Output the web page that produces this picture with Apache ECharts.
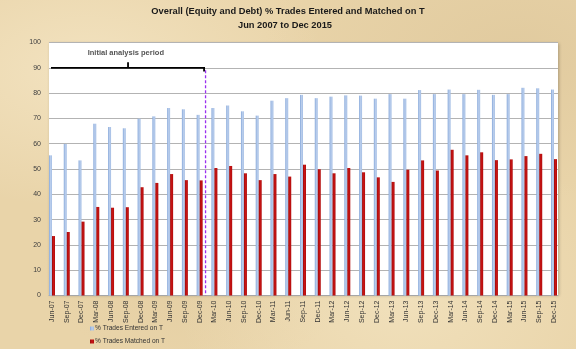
<!DOCTYPE html>
<html>
<head>
<meta charset="utf-8">
<script src="https://cdn.jsdelivr.net/npm/echarts@6/dist/echarts.min.js"></script>
<style>
html,body{margin:0;padding:0;width:576px;height:349px;overflow:hidden;}
body{
  background-color:#e9d4a9;
  background-image:
    radial-gradient(ellipse at 15% 20%, rgba(250,238,210,0.55) 0%, rgba(250,238,210,0) 35%),
    radial-gradient(ellipse at 70% 85%, rgba(248,236,205,0.5) 0%, rgba(248,236,205,0) 40%),
    radial-gradient(ellipse at 90% 15%, rgba(210,185,140,0.35) 0%, rgba(210,185,140,0) 35%),
    radial-gradient(ellipse at 35% 75%, rgba(215,190,145,0.3) 0%, rgba(215,190,145,0) 30%);
}
#c{width:576px;height:349px;}
</style>
</head>
<body>
<div id="c"></div>
<script>
var categories = ['Jun-07','Sep-07','Dec-07','Mar-08','Jun-08','Sep-08','Dec-08','Mar-09','Jun-09','Sep-09','Dec-09',
  'Mar-10','Jun-10','Sep-10','Dec-10','Mar-11','Jun-11','Sep-11','Dec-11','Mar-12','Jun-12','Sep-12','Dec-12',
  'Mar-13','Jun-13','Sep-13','Dec-13','Mar-14','Jun-14','Sep-14','Dec-14','Mar-15','Jun-15','Sep-15','Dec-15'];
var enteredOnT = [55.4,59.9,53.4,67.9,66.6,66.1,69.9,70.8,74.1,73.6,71.4,
  74.1,75.1,72.8,71.1,77.0,78.0,79.3,78.0,78.6,79.1,79.0,77.8,
  79.6,77.8,81.2,79.6,81.4,79.6,81.3,79.3,79.6,82.1,81.9,81.4];
var matchedOnT = [23.5,25.1,29.2,35.0,34.7,34.9,42.8,44.5,48.0,45.6,45.5,
  50.4,51.2,48.3,45.6,48.0,47.0,51.7,49.9,48.3,50.4,48.7,46.7,
  44.9,49.7,53.4,49.4,57.6,55.4,56.6,53.5,53.8,55.1,56.0,53.9];
var yTicks = [0,10,20,30,40,50,60,70,80,90,100];
var seriesNames = ['% Trades Entered on T','% Trades Matched on T'];
var titleLine1 = 'Overall (Equity and Debt) % Trades Entered and Matched on T';
var titleLine2 = 'Jun 2007 to Dec 2015';
var annotationText = 'Initial analysis period';
// bracket over the initial analysis period (x in category index units, y in %)
var bracketX = [-0.15,-0.15,5.15,5.15,5.15,10.3,10.3];
var bracketY = [88.8,90,90,92.2,90,90,88.9];
var periodEndX = [10.4,10.4];
var periodEndY = [89,0];
var annotationPos = [5.0,95.8];

var chart = echarts.init(document.getElementById('c'), null, {renderer:'canvas'});
var fam = "'Liberation Sans', Arial, sans-serif";
var titleFam = "'Liberation Sans', sans-serif";

var option = {
  animation:false,
  backgroundColor:'transparent',
  title:[
    {text:titleLine1, left:288, top:6.5, textAlign:'center', padding:0,
     textStyle:{fontFamily:titleFam, fontWeight:'bold', fontSize:9.3, color:'#1a1a1a'}},
    {text:titleLine2, left:285, top:20.5, textAlign:'center', padding:0,
     textStyle:{fontFamily:titleFam, fontWeight:'bold', fontSize:9.3, color:'#1a1a1a'}}
  ],
  legend:{
    data:seriesNames, orient:'vertical', left:90, top:325, itemGap:6, padding:0,
    itemWidth:4, itemHeight:4, icon:'rect',
    textStyle:{fontFamily:fam, fontSize:6.6, color:'#333', padding:[0,0,0,-4]}
  },
  grid:[
    {left:52, right:22, top:42.5, bottom:53.5},
    {left:49, right:18, top:42.5, bottom:53.5, show:true, backgroundColor:'#ffffff', borderWidth:0,
     shadowColor:'rgba(0,0,0,0.25)', shadowBlur:3, shadowOffsetX:1, shadowOffsetY:0, z:-1}
  ],
  xAxis:[
    {type:'category', gridIndex:0, data:categories, boundaryGap:false,
     axisLine:{show:false}, axisTick:{show:false}, splitLine:{show:false},
     axisLabel:{rotate:90, fontSize:7, fontFamily:fam, color:'#333', margin:5, interval:0}},
    {type:'value', gridIndex:1, min:0, max:1, axisLine:{show:true, lineStyle:{color:'#a6a6a6'}},
     axisTick:{show:false}, axisLabel:{show:false}, splitLine:{show:false}},
    {type:'value', gridIndex:0, min:0, max:categories.length-1, show:false}
  ],
  yAxis:[
    {type:'value', gridIndex:0, min:0, max:100, show:false},
    {type:'value', gridIndex:1, min:0, max:100, interval:10,
     axisLine:{show:false}, axisTick:{show:false},
     axisLabel:{fontSize:7, fontFamily:fam, color:'#404040', margin:8,
       formatter:function(v){return yTicks.indexOf(v)>=0?String(v):'';}},
     splitLine:{show:true, lineStyle:{color:'#b3b3b3', width:1}}}
  ],
  series:[
    {name:seriesNames[0], type:'bar', xAxisIndex:0, yAxisIndex:0, data:enteredOnT,
     barWidth:3, barGap:'0%', clip:false,
     itemStyle:{color:new echarts.graphic.LinearGradient(0,0,1,0,[
       {offset:0,color:'#86a8da'},{offset:0.5,color:'#b9cdec'},{offset:1,color:'#a5bfe5'}])}},
    {name:seriesNames[1], type:'bar', xAxisIndex:0, yAxisIndex:0, data:matchedOnT,
     barWidth:3, barGap:'0%', clip:false,
     itemStyle:{color:new echarts.graphic.LinearGradient(0,0,1,0,[
       {offset:0,color:'#9a0a0a'},{offset:0.5,color:'#c81414'},{offset:1,color:'#b00c0c'}])}},
    {name:'bracket', type:'line', xAxisIndex:2, yAxisIndex:0, symbol:'none', clip:false, silent:true,
     data:bracketX.map(function(x,i){return [x,bracketY[i]];}),
     lineStyle:{color:'#000', width:1.8, cap:'square', join:'miter'}, z:5},
    {name:'periodEnd', type:'line', xAxisIndex:2, yAxisIndex:0, symbol:'none', clip:false, silent:true,
     data:periodEndX.map(function(x,i){return [x,periodEndY[i]];}),
     lineStyle:{color:'#9b30f0', width:1.3, type:[3,2]}, z:5},
    {name:'annotation', type:'scatter', xAxisIndex:2, yAxisIndex:0, symbolSize:0, silent:true,
     data:[annotationPos],
     label:{show:true, position:'inside', formatter:annotationText,
       fontFamily:fam, fontSize:7.5, fontWeight:'bold', color:'#262626'}}
  ]
};
chart.setOption(option);
</script>
</body>
</html>
